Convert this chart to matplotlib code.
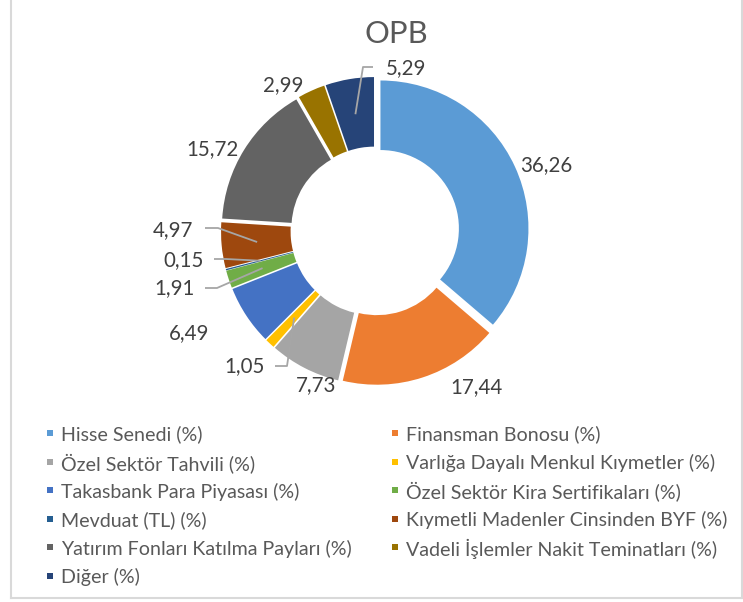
import numpy as np
import matplotlib
matplotlib.use("Agg")
import matplotlib.pyplot as plt
from matplotlib.lines import Line2D
from matplotlib.patches import Rectangle

title = "OPB"
categories = [
    "Hisse Senedi (%)",
    "Finansman Bonosu (%)",
    "Özel Sektör Tahvili (%)",
    "Varlığa Dayalı Menkul Kıymetler (%)",
    "Takasbank Para Piyasası (%)",
    "Özel Sektör Kira Sertifikaları (%)",
    "Mevduat (TL) (%)",
    "Kıymetli Madenler Cinsinden BYF (%)",
    "Yatırım Fonları Katılma Payları (%)",
    "Vadeli İşlemler Nakit Teminatları (%)",
    "Diğer (%)",
]
values = [36.26, 17.44, 7.73, 1.05, 6.49, 1.91, 0.15, 4.97, 15.72, 2.99, 5.29]
colors = ["#5B9BD5", "#ED7D31", "#A5A5A5", "#FFC000", "#4472C4", "#70AD47",
          "#255E91", "#9E480E", "#636363", "#997300", "#264478"]

# ---------- layout (pixel coordinates, origin top-left) ----------
W, H = 743, 602
cx, cy, R = 375, 231, 148
EXPLODE = 6
label_pos = [(546, 165), (476, 387), (316, 385), (245, 366), (189, 333),
             (175, 288), (184, 260), (173, 230), (213, 149), (283, 85), (406, 68)]
leaders = {10: (373, 363, 67), 7: (205, 218, 228), 6: (214, 226, 259),
           5: (205, 217, 288), 3: (275, 287, 366)}
leg_cols_x = [47, 392]
leg_row0, leg_dy = 433, 28.5

FONT = ["Lato", "DejaVu Sans"]
plt.rcParams['font.family'] = FONT

fig = plt.figure(figsize=(W / 100, H / 100), dpi=100)
ax = fig.add_axes([0, 0, 1, 1])
renderer = fig.canvas.get_renderer()


def fit(samples):
    """font size so that sample texts get the target pixel widths (mean ratio)"""
    ratios = []
    for s, target in samples:
        t = fig.text(0, 0, s, fontsize=10)
        w = t.get_window_extent(renderer).width
        t.remove()
        ratios.append(target / w)
    return 10 * float(np.mean(ratios))


fs_title = fit([("OPB", 63)])
fs_lab = fit([("36,26", 53), ("17,44", 52)])
fs_leg = fit([("Hisse Senedi (%)", 140), ("Yatırım Fonları Katılma Payları (%)", 291),
              ("Finansman Bonosu (%)", 195), ("Varlığa Dayalı Menkul Kıymetler (%)", 307)])

wedges, _ = ax.pie(values, colors=colors, startangle=90, counterclock=False,
                   radius=R, center=(cx, H - cy), explode=[EXPLODE] * len(values),
                   wedgeprops=dict(width=R * 0.47, edgecolor="none"))
ax.set_xlim(0, W)
ax.set_ylim(0, H)
ax.set_aspect("equal")
ax.axis("off")

fmt = lambda v: f"{v:.2f}".replace(".", ",")
cum = np.cumsum([0] + values)
total = sum(values)
for i, v in enumerate(values):
    lx, ly = label_pos[i]
    ax.text(lx, H - ly, fmt(v), ha="center", va="center", fontsize=fs_lab, color="#404040")
    if i in leaders:
        mid = (cum[i] + v / 2) / total * 2 * np.pi
        px = cx + 0.8 * R * np.sin(mid)
        py = cy - 0.8 * R * np.cos(mid)
        x0, x1, yy = leaders[i]
        ax.plot([x0, x1, px], [H - yy, H - yy, H - py], color="#A6A6A6", lw=1.3,
                solid_capstyle="butt")

fig.text(396 / W, 1 - 34 / H, title, ha="center", va="center", fontsize=fs_title,
         color="#595959")

# legend, filled row by row in two columns
for k, (name, col) in enumerate(zip(categories, colors)):
    r, c = divmod(k, 2)
    x = leg_cols_x[c]
    y = leg_row0 + r * leg_dy
    fig.add_artist(Rectangle(((x) / W, 1 - (y + 3) / H), 6 / W, 6 / H,
                             transform=fig.transFigure, facecolor=col, edgecolor="none"))
    fig.text((x + 14) / W, 1 - y / H, name, ha="left", va="center_baseline",
             fontsize=fs_leg, color="#595959")

# figure border lines (left, right, bottom)
for xs, ys in [([10.5, 10.5], [0, 598]), ([741.5, 741.5], [0, 598]), ([10.5, 741.5], [598, 598])]:
    fig.add_artist(Line2D([x / W for x in xs], [1 - y / H for y in ys],
                          color="#D9D9D9", lw=1.5, transform=fig.transFigure))

fig.savefig("out.png", dpi=100)
